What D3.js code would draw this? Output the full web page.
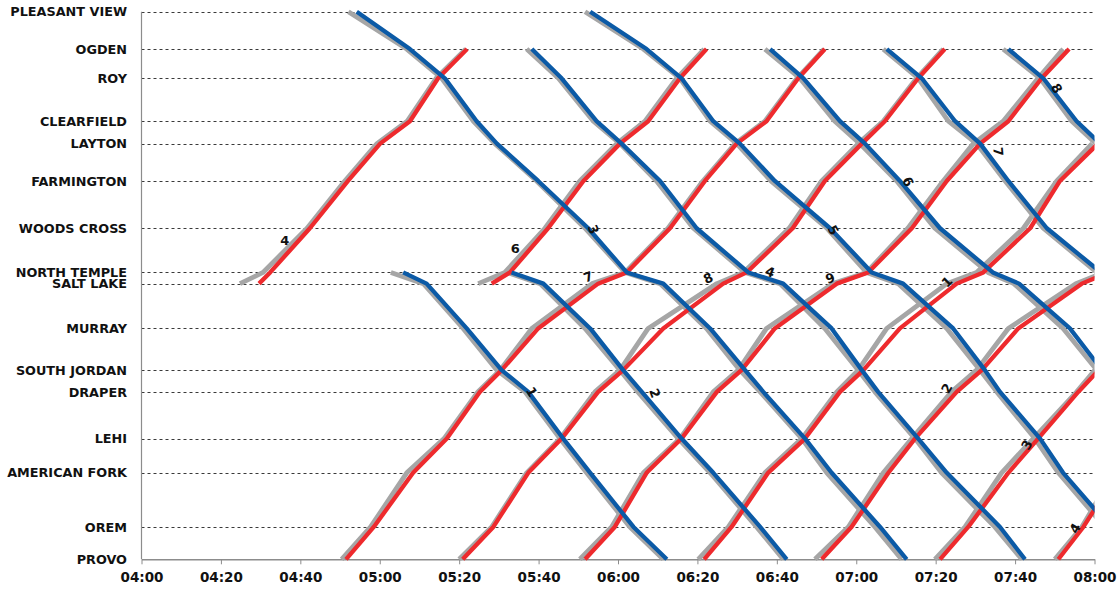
<!DOCTYPE html>
<html><head><meta charset="utf-8">
<script src="https://cdn.jsdelivr.net/npm/d3@7/dist/d3.min.js"></script>
<style>
body{margin:0;background:#fff}
text{font-family:"DejaVu Sans",sans-serif;font-weight:bold;fill:#111}
</style>
</head><body>
<svg id="chart" width="1120" height="592"></svg>
<script>
// ---- stations (top to bottom) and their distance along the line (miles) ----
const stations = ["PLEASANT VIEW","OGDEN","ROY","CLEARFIELD","LAYTON","FARMINGTON","WOODS CROSS","NORTH TEMPLE","SALT LAKE","MURRAY","SOUTH JORDAN","DRAPER","LEHI","AMERICAN FORK","OREM","PROVO"];
const stationMiles = [0,6.0,10.7,17.6,21.2,27.2,34.8,41.9,43.7,50.9,57.6,61.1,68.6,74.1,82.8,88];
const timeTicks = ["04:00","04:20","04:40","05:00","05:20","05:40","06:00","06:20","06:40","07:00","07:20","07:40","08:00"];

// ---- times are minutes after midnight, listed in travel order ----
// Northbound (red) trains
const nbSL1Actual = [269.6,272.4,282.4,292.0,300.1,307.6,314.7,322.0];
const nbSL1Plan   = [264.8,270.6,281.7,291.2,299.3,306.9,314.2,321.7];
const nbSL2Actual = [328.2,332.8,342.4,351.3,360.5,367.6,375.6,382.3];
const nbSL2Plan   = [324.8,331.5,341.6,350.4,359.7,366.8,374.8,381.7];
const nbAActual = [291.5,298.5,308.4,316.9,325.2,330.7,339.9,355.0,362.2,373.1,381.9,389.9,397.4,405.4,412.1];
const nbAPlan   = [290.4,297.7,306.8,316.2,324.7,330.3,338.3,353.5,361.8,372.6,381.4,389.5,397.0,405.1,411.9];
const nbBActual = [320.9,328.6,337.4,345.8,355.0,361.3,371.4,386.5,392.4,404.0,412.1,421.4,427.2,435.6,442.3];
const nbBPlan   = [320.0,328.2,337.0,345.4,354.2,360.5,367.6,384.9,391.6,403.1,411.3,420.5,426.8,435.2,441.9];
const nbCActual = [351.7,359.2,367.2,376.0,384.9,391.1,399.5,415.1,423.0,434.0,442.8,451.2,458.3,466.7,473.6];
const nbCPlan   = [350.4,358.4,366.4,375.6,384.0,390.3,397.4,414.1,422.6,433.0,441.9,449.5,457.0,465.8,472.1];
const nbDActual = [381.7,388.6,397.8,407.1,415.9,421.8,431.0,445.3,452.0,463.8,471.3,480.9];
const nbDPlan   = [380.2,387.8,397.0,406.3,415.1,420.5,427.7,442.8,450.3,462.1,470.5,479.4];
const nbEActual = [411.3,418.8,428.1,434.8,445.3,451.6,460.8,476.8,483.6];
const nbEPlan   = [409.6,418.0,426.8,434.0,444.0,450.3,458.3,475.3,482.4];
const nbFActual = [441.1,448.2,458.3,465.8,475.9,481.1];
const nbFPlan   = [439.8,447.4,456.6,464.6,475.5,480.1];
const nbGActual = [470.9,477.2,485.9];
const nbGPlan   = [470.0,476.8,484.9];
// Southbound (blue) trains
const sb1Actual = [294.2,307.6,316.4,324.4,329.5,339.9,352.5,362.2,371.4,383.2,392.0,396.6,407.1,413.8,426.0,432.7];
const sb1Plan   = [292.1,306.8,315.6,323.6,329.0,339.5,351.7,361.8,370.6,382.3,390.7,395.8,406.3,412.6,424.7,431.4];
const sb2Actual = [353.0,367.2,376.0,384.0,390.7,399.5,413.4,423.9,431.8,444.4,452.4,456.2,466.3,472.1,483.9];
const sb2Plan   = [351.7,366.4,375.6,383.2,389.9,398.5,412.6,422.6,430.6,442.8,451.2,455.4,465.0,470.9,482.6];
const sbNT1Actual = [305.9,311.8,321.9,330.7,337.4,346.2,353.0,363.9,372.3];
const sbNT1Plan   = [302.8,311.0,321.0,329.5,336.6,345.4,352.1,363.0,371.4];
const sbNT2Actual = [333.2,341.2,353.0,361.3,366.0,376.0,384.0,395.8,402.5];
const sbNT2Plan   = [332.0,340.4,351.7,360.5,365.0,375.2,383.2,394.9,401.6];
const sbO1Actual = [338.3,345.8,354.6,360.9,370.6,379.8,392.8,401.6,413.8,421.4,425.5,435.6,442.8,456.2,462.5];
const sbO1Plan   = [337.0,345.0,353.8,360.5,369.7,379.0,392.0,400.8,412.1,420.5,424.7,434.8,441.5,454.9,461.7];
const sbO2Actual = [398.3,406.7,415.9,422.2,431.0,441.1,454.4,461.0,473.8,481.9];
const sbO2Plan   = [397.0,405.8,414.6,420.9,430.2,439.8,453.2,459.7,472.1,480.6];
const sbO3Actual = [427.7,436.5,444.9,451.2,458.3,468.0,481.6];
const sbO3Plan   = [426.8,435.6,443.2,450.3,457.5,467.1,480.6];
const sbO4Actual = [458.3,467.1,475.5,481.4];
const sbO4Plan   = [457.0,466.3,474.3,480.4];

// train number labels: text, time (min), mile, rotation
const labelText  = ["4","6","3","7","8","4","9","1","5","6","7","8","1","2","2","3","4"];
const labelTime  = [276.1,334.1,353.8,352.5,382.7,398.3,413.4,442.8,414.2,433.1,455.8,470.5,338.3,369.3,442.8,462.9,475.1];
const labelMile  = [36.7,38.0,35.0,42.6,42.8,41.8,42.8,43.4,35.1,27.3,22.5,12.3,61.1,61.3,60.5,69.6,83.0];
const labelAngle = [0,0,70,-20,-25,20,-20,-45,60,65,85,60,60,70,-60,-60,-60];

// ---- build series ----
const nbOrder = stations.slice().reverse();
function route(dir, from, times) {
  const order = dir === "N" ? nbOrder : stations;
  const i0 = order.indexOf(from);
  return times.map((t, i) => ({t, mile: stationMiles[stations.indexOf(order[i0 + i])]}));
}
const trains = [
  ["N","SALT LAKE",nbSL1Actual,nbSL1Plan],["N","SALT LAKE",nbSL2Actual,nbSL2Plan],
  ["N","PROVO",nbAActual,nbAPlan],["N","PROVO",nbBActual,nbBPlan],["N","PROVO",nbCActual,nbCPlan],
  ["N","PROVO",nbDActual,nbDPlan],["N","PROVO",nbEActual,nbEPlan],["N","PROVO",nbFActual,nbFPlan],["N","PROVO",nbGActual,nbGPlan],
  ["S","PLEASANT VIEW",sb1Actual,sb1Plan],["S","PLEASANT VIEW",sb2Actual,sb2Plan],
  ["S","NORTH TEMPLE",sbNT1Actual,sbNT1Plan],["S","NORTH TEMPLE",sbNT2Actual,sbNT2Plan],
  ["S","OGDEN",sbO1Actual,sbO1Plan],["S","OGDEN",sbO2Actual,sbO2Plan],["S","OGDEN",sbO3Actual,sbO3Plan],["S","OGDEN",sbO4Actual,sbO4Plan]
].map(([dir, from, a, p]) => ({dir, actual: route(dir, from, a), plan: route(dir, from, p)}));

// ---- chart ----
const svg = d3.select("#chart");
const x = d3.scaleLinear().domain([240, 480]).range([141.5, 1094.5]);
const y = d3.scaleLinear().domain([0, 88]).range([11.7, 559.3]);
const toMin = s => { const [h, m] = s.split(":").map(Number); return h * 60 + m; };

svg.append("defs").append("clipPath").attr("id", "clip")
  .append("rect").attr("x", x.range()[0]).attr("y", 0).attr("width", x.range()[1] - x.range()[0]).attr("height", 592);

// gridlines
svg.append("g").selectAll("line").data(stationMiles.slice(0, -1)).join("line")
  .attr("x1", x.range()[0]).attr("x2", x.range()[1])
  .attr("y1", d => Math.round(y(d)) + 0.5).attr("y2", d => Math.round(y(d)) + 0.5)
  .attr("stroke", "#3a3a3a").attr("stroke-width", 1).attr("stroke-dasharray", "3,3");

// station labels
svg.append("g").selectAll("text").data(stations).join("text")
  .attr("x", 127).attr("y", (d, i) => y(stationMiles[i])).attr("dy", "0.36em")
  .attr("text-anchor", "end").style("font-size", "12.8px").text(d => d);

// axes
svg.append("line").attr("x1", 141.5).attr("x2", 141.5).attr("y1", y(0)).attr("y2", y(88))
  .attr("stroke", "#8c8c8c").attr("stroke-width", 1.2);
const xAxis = d3.axisBottom(x).tickValues(timeTicks.map(toMin)).tickSize(5).tickSizeOuter(0)
  .tickFormat(d => timeTicks[timeTicks.map(toMin).indexOf(d)]);
const gx = svg.append("g").attr("transform", `translate(0,${y(88)})`).call(xAxis);
gx.select(".domain").attr("stroke", "#8c8c8c").attr("stroke-width", 1.5);
gx.selectAll(".tick line").attr("stroke", "#8c8c8c");
gx.selectAll(".tick text").attr("y", 11).attr("dy", "0.9em").style("font-size", "13.5px")
  .style("font-family", "DejaVu Sans").style("font-weight", "bold").attr("fill", "#111");

// train lines
const line = d3.line().x(d => x(d.t)).y(d => y(d.mile));
const plot = svg.append("g").attr("clip-path", "url(#clip)");
plot.selectAll("path.plan").data(trains).join("path").attr("class", "plan")
  .attr("d", d => line(d.plan)).attr("fill", "none").attr("stroke", "#a6a6a6")
  .attr("stroke-width", 4.8).attr("stroke-linejoin", "round");
plot.selectAll("path.actual").data(trains).join("path").attr("class", "actual")
  .attr("d", d => line(d.actual)).attr("fill", "none")
  .attr("stroke", d => d.dir === "N" ? "#ee2a2d" : "#0b5aa6")
  .attr("stroke-width", 4.3).attr("stroke-linejoin", "round");

// train number labels
svg.append("g").selectAll("text").data(labelText).join("text")
  .attr("transform", (d, i) => `translate(${x(labelTime[i])},${y(labelMile[i])}) rotate(${labelAngle[i]})`)
  .attr("text-anchor", "middle").attr("dy", "0.36em").style("font-size", "13px").text(d => d);
</script>
</body></html>
